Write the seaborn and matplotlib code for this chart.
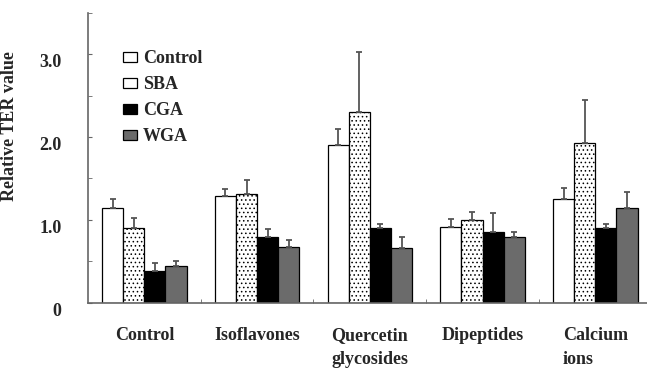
import matplotlib
matplotlib.use("Agg")
import matplotlib.pyplot as plt
import pandas as pd
import seaborn as sb

# values
groups = ['Control', 'Isoflavones', 'Quercetin\nglycosides', 'Dipeptides', 'Calcium\nions']
treatments = ['Control', 'SBA', 'CGA', 'WGA']
control = [1.14, 1.29, 1.90, 0.92, 1.25]
sba = [0.90, 1.31, 2.30, 1.00, 1.93]
cga = [0.38, 0.80, 0.90, 0.85, 0.90]
wga = [0.44, 0.67, 0.66, 0.80, 1.14]
control_err = [0.11, 0.08, 0.20, 0.09, 0.13]
sba_err = [0.12, 0.17, 0.72, 0.10, 0.52]
cga_err = [0.10, 0.09, 0.05, 0.24, 0.05]
wga_err = [0.07, 0.09, 0.13, 0.05, 0.20]

sb.set_style('white')
plt.rcParams['font.family'] = ['Liberation Serif', 'DejaVu Serif']
plt.rcParams['font.weight'] = 'bold'
plt.rcParams['hatch.linewidth'] = 0.6
plt.rcParams['hatch.color'] = '#777777'

vals = [control, sba, cga, wga]
errs = [control_err, sba_err, cga_err, wga_err]
rows = []
for t, v in zip(treatments, vals):
    for g, y in zip(groups, v):
        rows.append({'group': g, 'treatment': t, 'value': y})
data = pd.DataFrame(rows)

colors = ['white', 'white', 'black', '#6b6b6b']

fig = plt.figure(figsize=(6.47, 3.69), dpi=100)
ax = fig.add_axes([0.136, 0.179, 0.866, 0.787])
sb.barplot(data=data, x='group', y='value', hue='treatment', order=groups,
           hue_order=treatments, palette=colors, width=0.75, gap=0,
           edgecolor='black', linewidth=0.9, saturation=1, ax=ax)

bar_sets = list(ax.containers)
for i, cont in enumerate(bar_sets):
    xs = [p.get_x() + p.get_width() / 2 for p in cont.patches]
    tops = [p.get_height() for p in cont.patches]
    if treatments[i] == 'SBA':
        for p in cont.patches:
            p.set_hatch('....')
    ax.errorbar(xs, tops, yerr=[[0] * len(tops), errs[i]], fmt='none',
                ecolor='#555555', elinewidth=1.3, capsize=2.5, capthick=1.3, zorder=1)

ax.set_ylim(0, 3.5)
ax.set_xlim(-0.5, 4.47)
ax.set_yticks([0, 1, 2, 3])
ax.set_yticklabels(['0', '1.0', '2.0', '3.0'])
ax.set_yticks([0.5, 1.5, 2.5, 3.5], minor=True)
ax.set_xticks([0.5, 1.5, 2.5, 3.5], minor=True)
ax.tick_params(axis='y', which='both', left=True, direction='in', length=3,
               color='#666666', labelsize=13, pad=19)
ax.tick_params(axis='x', which='major', bottom=False, labelsize=13, pad=14)
ax.tick_params(axis='x', which='minor', bottom=True, direction='in', length=3, color='#666666')
for lab in ax.get_yticklabels():
    lab.set_verticalalignment('top')
    lab.set_y(lab.get_position()[1])
for lab in ax.get_xticklabels():
    lab.set_multialignment('left')
    lab.set_verticalalignment('top')
    lab.set_linespacing(1.5)
ax.set_xlabel('')
ax.set_ylabel('Relative TER value', fontsize=13, fontweight='bold')
ax.yaxis.set_label_coords(-0.125, 0.61)

for s in ['top', 'right']:
    ax.spines[s].set_visible(False)
for s in ['left', 'bottom']:
    ax.spines[s].set_color('#666666')
    ax.spines[s].set_linewidth(1.2)

ax.legend(loc='upper left', bbox_to_anchor=(0.05, 0.895), frameon=False,
          fontsize=13, handlelength=0.75, handleheight=0.5, handletextpad=0.35,
          labelspacing=0.5, borderaxespad=0)

plt.savefig('out.png', dpi=100)
